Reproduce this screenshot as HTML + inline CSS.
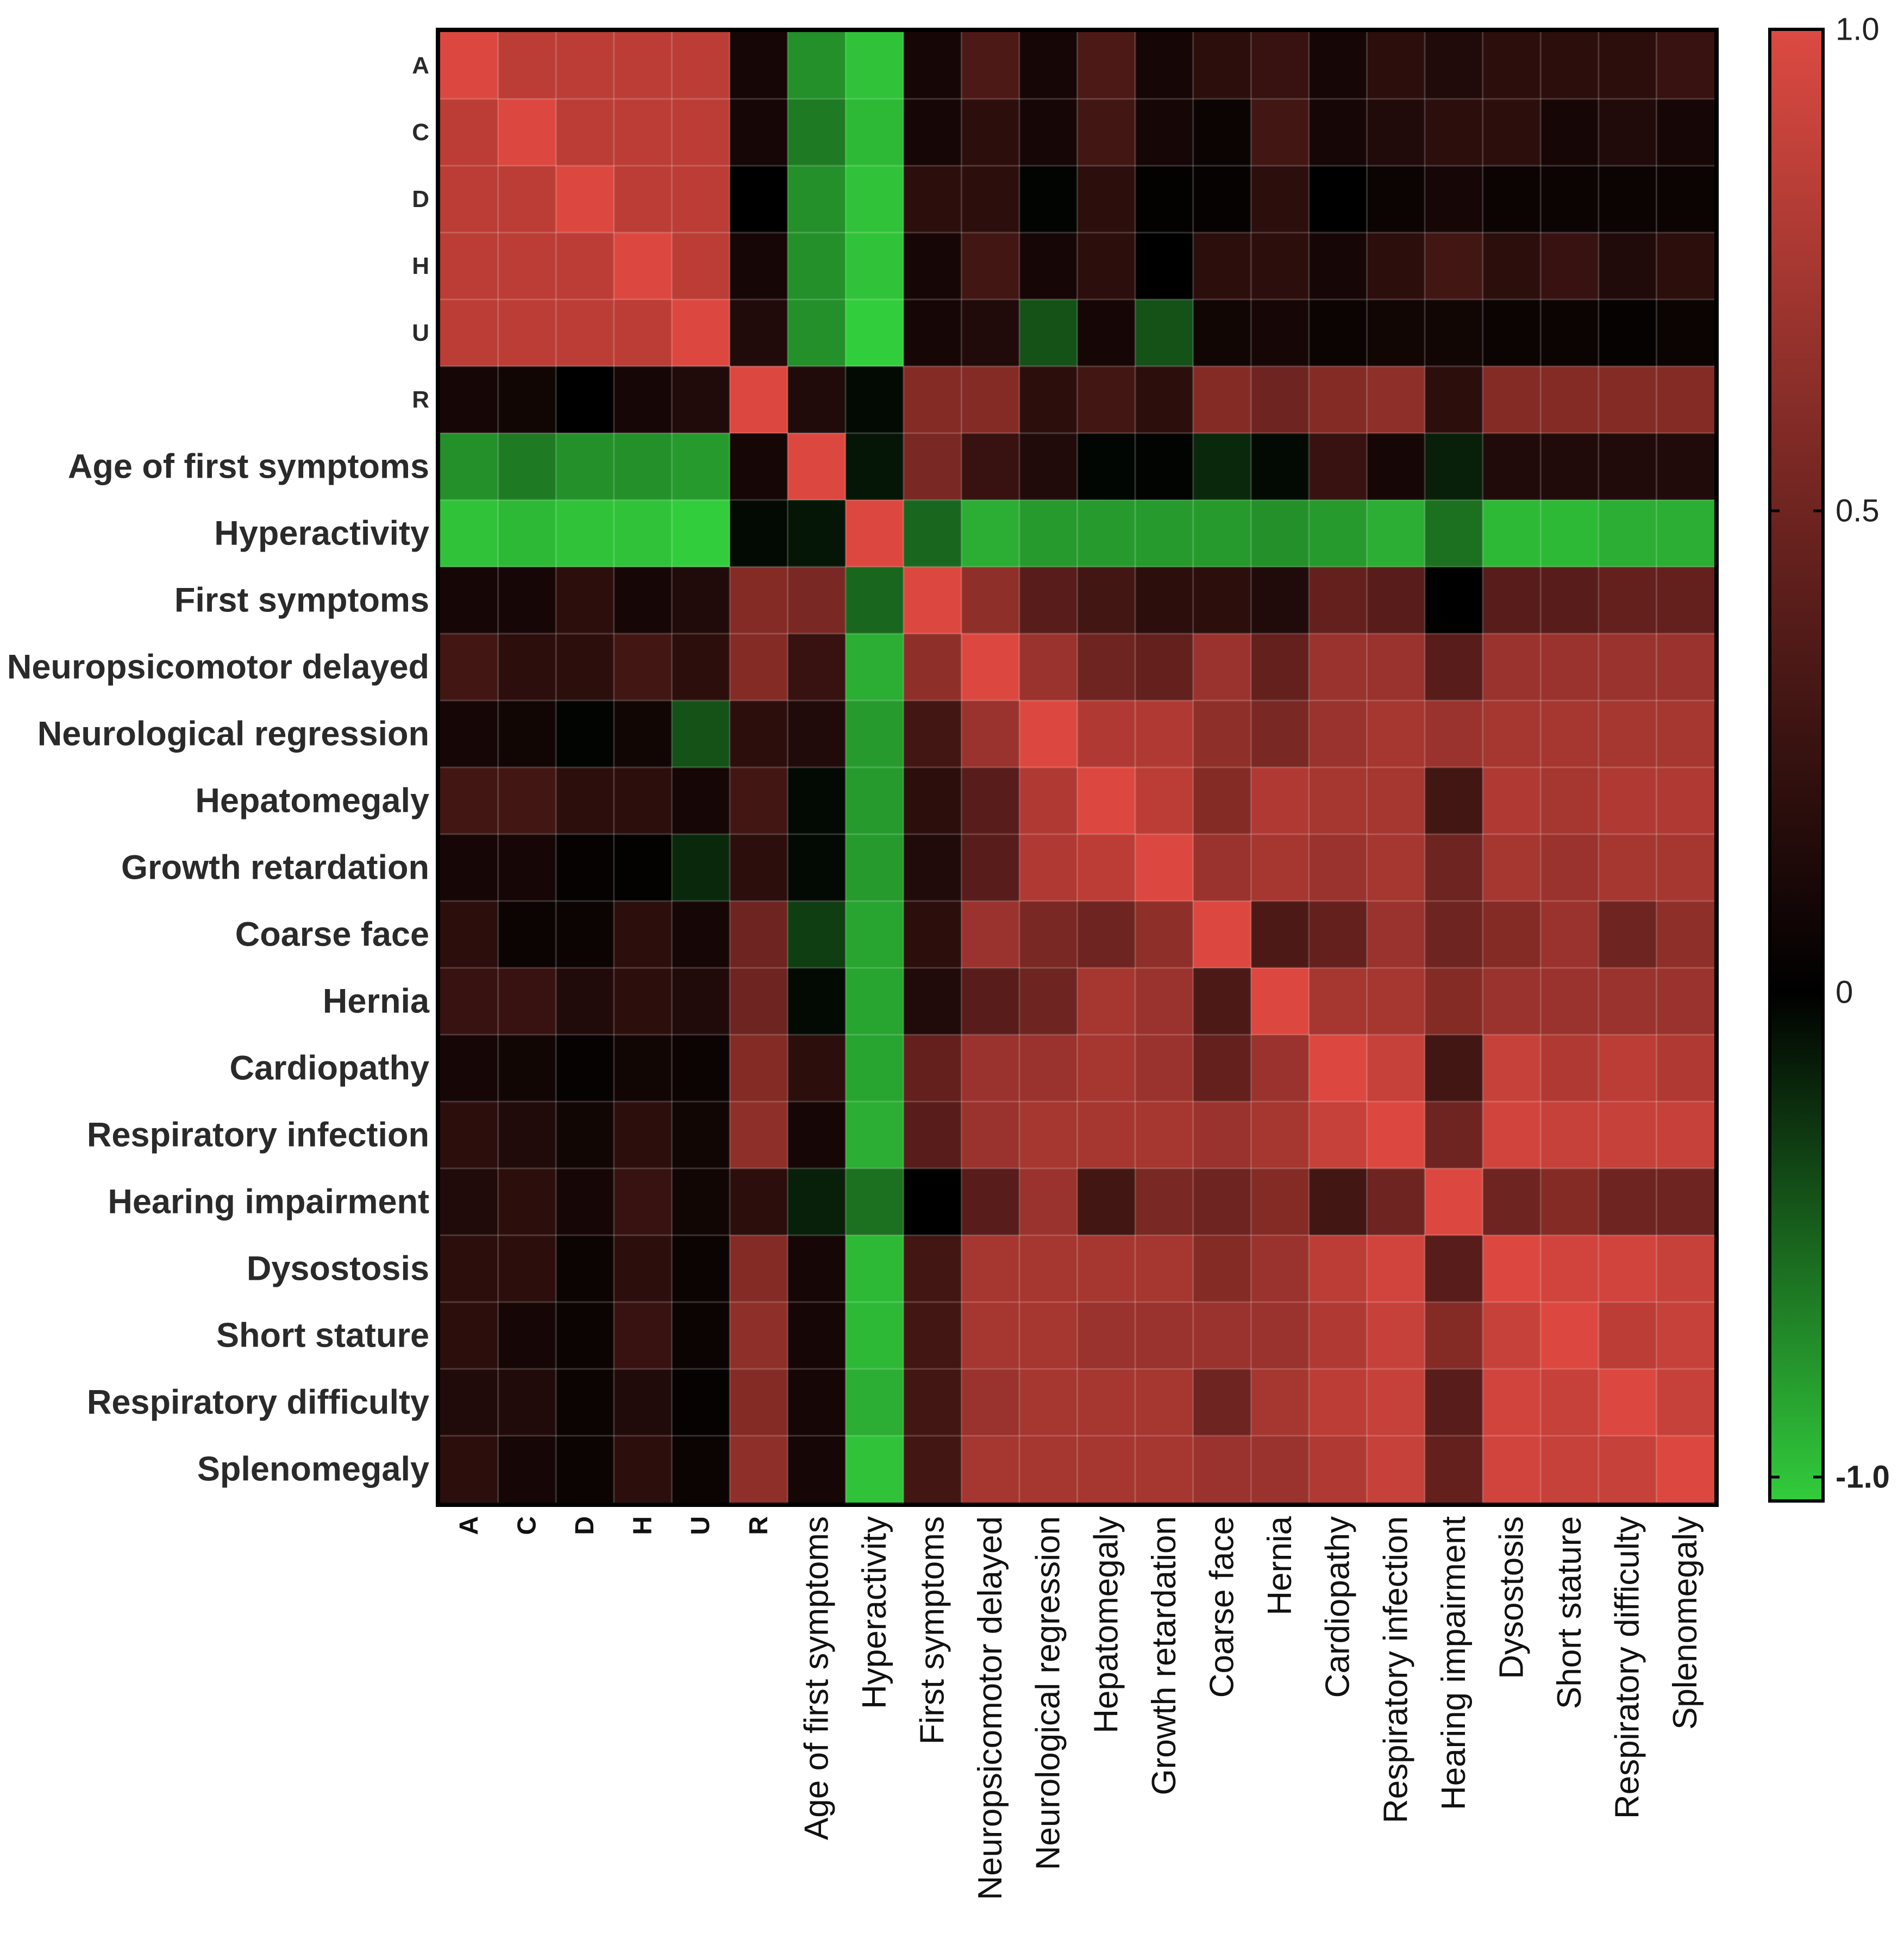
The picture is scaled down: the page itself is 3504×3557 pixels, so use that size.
<!DOCTYPE html>
<html><head><meta charset="utf-8"><style>html,body{margin:0;padding:0;background:#fff}svg{display:block}</style></head>
<body>
<svg id="chart" xmlns="http://www.w3.org/2000/svg" width="3504" height="3557" viewBox="0 0 3504 3557" font-family="Liberation Sans, Arial, sans-serif">
<rect width="3504" height="3557" fill="#fff"/>
<g id="cells"></g>
<g id="ylabels"></g>
<g id="xlabels"></g>
<rect x="806" y="55" width="2353" height="2714" fill="none" stroke="#000" stroke-width="8"/>
<defs><linearGradient id="cb" x1="0" y1="0" x2="0" y2="1">
<stop offset="0" stop-color="#dc4a42"/><stop offset="0.33" stop-color="#6e2420"/><stop offset="0.654" stop-color="#000"/><stop offset="1" stop-color="#32cc3c"/></linearGradient></defs>
<g id="colorbar"></g>
</svg>
<script>
const labels = ["A","C","D","H","U","R","Age of first symptoms","Hyperactivity","First symptoms","Neuropsicomotor delayed","Neurological regression","Hepatomegaly","Growth retardation","Coarse face","Hernia","Cardiopathy","Respiratory infection","Hearing impairment","Dysostosis","Short stature","Respiratory difficulty","Splenomegaly"];
const matrix = [
[1,.85,.85,.85,.85,.1,-.7,-.95,.1,.35,.1,.35,.1,.2,.25,.1,.2,.15,.2,.2,.2,.25],
[.85,1,.85,.85,.85,.1,-.6,-.9,.1,.2,.1,.3,.1,.05,.3,.1,.15,.2,.2,.1,.15,.1],
[.85,.85,1,.85,.85,0,-.7,-.95,.2,.2,-.02,.2,.02,.03,.2,0,.05,.1,.05,.05,.05,.05],
[.85,.85,.85,1,.85,.1,-.7,-.95,.1,.3,.1,.2,0,.2,.2,.1,.2,.3,.2,.25,.15,.2],
[.85,.85,.85,.85,1,.15,-.7,-1,.1,.15,-.4,.1,-.4,.08,.1,.05,.08,.08,.05,.05,.03,.05],
[.1,.08,0,.1,.15,1,.15,-.05,.6,.6,.2,.3,.2,.6,.5,.6,.65,.2,.6,.6,.6,.6],
[-.7,-.6,-.7,-.7,-.75,.1,1,-.1,.55,.25,.15,-.03,-.02,-.2,-.05,.25,.1,-.15,.15,.15,.15,.15],
[-.95,-.9,-.95,-.95,-1,-.05,-.1,1,-.5,-.85,-.75,-.75,-.75,-.75,-.7,-.75,-.85,-.55,-.9,-.9,-.85,-.85],
[.1,.1,.2,.1,.15,.6,.55,-.5,1,.65,.4,.3,.2,.2,.15,.45,.4,0,.4,.4,.45,.45],
[.3,.2,.2,.3,.2,.6,.25,-.85,.65,1,.7,.5,.45,.7,.45,.7,.7,.4,.7,.7,.7,.7],
[.1,.08,-.02,.08,-.4,.2,.15,-.75,.3,.7,1,.8,.8,.65,.55,.7,.75,.7,.75,.75,.75,.75],
[.3,.3,.2,.2,.1,.3,-.05,-.75,.2,.4,.8,1,.85,.6,.8,.75,.75,.3,.8,.75,.8,.8],
[.1,.1,.03,.02,-.2,.2,-.05,-.75,.15,.4,.8,.85,1,.7,.75,.7,.75,.5,.75,.7,.75,.75],
[.2,.05,.05,.2,.1,.5,-.3,-.8,.2,.7,.55,.5,.65,1,.35,.45,.7,.5,.6,.7,.5,.65],
[.25,.25,.15,.2,.15,.5,-.05,-.8,.15,.4,.5,.75,.7,.35,1,.75,.75,.6,.7,.7,.7,.7],
[.1,.08,.03,.08,.05,.6,.2,-.8,.45,.7,.7,.75,.7,.45,.7,1,.9,.3,.9,.8,.85,.8],
[.2,.15,.08,.2,.08,.65,.1,-.85,.4,.7,.75,.75,.75,.7,.75,.9,1,.5,.95,.9,.9,.9],
[.15,.2,.1,.25,.08,.2,-.15,-.55,0,.4,.7,.3,.55,.5,.6,.3,.5,1,.5,.6,.5,.5],
[.2,.2,.05,.2,.05,.6,.1,-.9,.3,.75,.75,.75,.75,.6,.7,.85,.95,.4,1,.95,.95,.9],
[.2,.1,.05,.25,.05,.65,.1,-.9,.3,.75,.75,.7,.7,.7,.7,.8,.9,.6,.9,1,.85,.9],
[.15,.15,.05,.15,.03,.6,.1,-.85,.3,.7,.75,.75,.75,.5,.75,.85,.9,.4,.95,.9,1,.9],
[.2,.1,.05,.2,.05,.65,.1,-.95,.3,.75,.75,.75,.75,.7,.7,.8,.9,.45,.95,.9,.9,1]
];
const scaleTicks = [1, 0.5, 0, -1];
const scaleTickLabels = ["1.0", "0.5", "0", "-1.0"];

const NS = "http://www.w3.org/2000/svg";
const X0 = 810, X1 = 3155, Y0 = 59, Y1 = 2765;
const n = labels.length;
const cw = (X1 - X0) / n, ch = (Y1 - Y0) / n;
const xPos = i => X0 + i * cw;
const yPos = i => Y0 + i * ch;
function color(v) {
  if (v >= 0) return `rgb(${Math.round(220*v)},${Math.round(72*v)},${Math.round(64*v)})`;
  const a = -v;
  return `rgb(${Math.round(50*a)},${Math.round(205*a)},${Math.round(60*a)})`;
}
function mk(tag, attrs) { const e = document.createElementNS(NS, tag); for (const k in attrs) e.setAttribute(k, attrs[k]); return e; }

const cells = document.getElementById('cells');
matrix.forEach((row, r) => row.forEach((v, c) => {
  const rc = mk('rect', {x: xPos(c), y: yPos(r), width: cw + 0.5, height: ch + 0.5, fill: color(v)});
  
  
  cells.appendChild(rc);
}));
for (let i = 1; i < n; i++) {
  const l1 = mk('line', {x1: xPos(i), x2: xPos(i), y1: Y0, y2: Y1, stroke: 'rgba(255,255,255,0.18)', 'stroke-width': 3});
  
  
  cells.appendChild(l1);
  const l2 = mk('line', {x1: X0, x2: X1, y1: yPos(i), y2: yPos(i), stroke: 'rgba(255,255,255,0.18)', 'stroke-width': 3});
  
  
  cells.appendChild(l2);
}

const yl = document.getElementById('ylabels');
const xl = document.getElementById('xlabels');
labels.forEach((lab, i) => {
  const small = lab.length === 1;
  const t = mk('text', {x: 790, y: yPos(i) + ch/2, 'text-anchor': 'end', 'dominant-baseline': 'central', 'font-size': small ? 44 : 63, 'font-weight': 'bold', fill: '#2a2a2a'});
  t.textContent = lab;
  
  
  yl.appendChild(t);
  const cx = xPos(i) + cw/2;
  const t2 = mk('text', {x: 0, y: 0, 'text-anchor': 'end', 'dominant-baseline': 'central', 'font-size': small ? 48 : 62, 'font-weight': small ? 'bold' : 'normal', fill: '#111', transform: `translate(${cx},2790) rotate(-90)`});
  t2.textContent = lab;
  
  
  xl.appendChild(t2);
});

const cb = document.getElementById('colorbar');
const CB0 = 54, CB1 = 2762, CBX = 3257, CBW = 98;
const bar = mk('rect', {x: CBX, y: CB0, width: CBW, height: CB1 - CB0, fill: 'url(#cb)', stroke: '#000', 'stroke-width': 6});


cb.appendChild(bar);
const tickY = v => v >= 0 ? 54 + (1 - v) * 1772 : 1826 + (-v) * 892;
scaleTicks.forEach((v, i) => {
  const y = tickY(v);
  [[CBX, CBX + 18], [CBX + CBW - 18, CBX + CBW]].forEach(([a, b]) => {
    const tk = mk('line', {x1: a, x2: b, y1: y, y2: y, stroke: '#000', 'stroke-width': 5});
    
    
    cb.appendChild(tk);
  });
  const tl = mk('text', {x: 3378, y: y, 'dominant-baseline': 'central', 'font-size': 58, fill: '#222', 'font-weight': v === -1 ? 'bold' : 'normal'});
  tl.textContent = scaleTickLabels[i];
  
  
  cb.appendChild(tl);
});
</script>
</body></html>
